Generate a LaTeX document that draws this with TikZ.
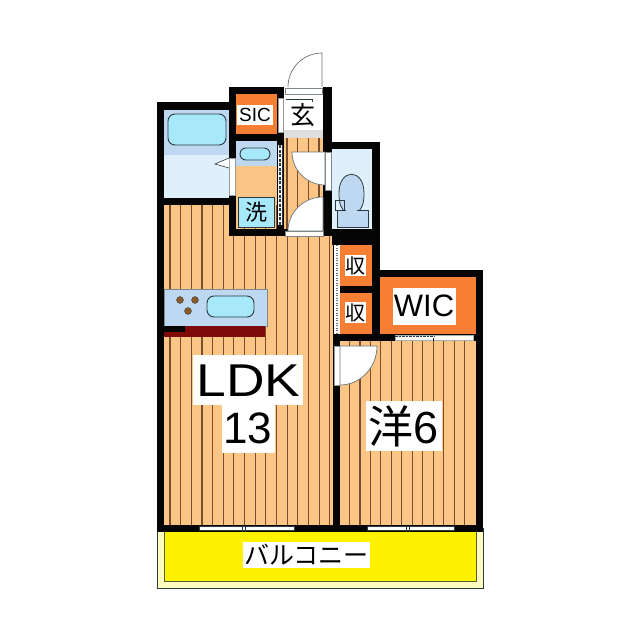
\documentclass[tikz,border=0pt]{standalone}
\usepackage{fontspec}
\setmainfont{Liberation Sans}
\newfontfamily\jpf{Noto Sans CJK JP}
\definecolor{flr}{HTML}{FBC585}
\definecolor{stripe}{HTML}{7A4E2C}
\definecolor{stor}{HTML}{F67F33}
\definecolor{paleb}{HTML}{DFF0FB}
\definecolor{bandb}{HTML}{BFD8F2}
\definecolor{tubb}{HTML}{A8E8FB}
\definecolor{wallc}{HTML}{050505}
\definecolor{ink}{HTML}{2A3A40}
\definecolor{redc}{HTML}{7E0A0A}
\definecolor{burn}{HTML}{8A5A2B}
\tikzset{
 wall/.style={fill=wallc,draw=none},
 linerule/.style={draw=stripe,line width=1.1pt},
 fixture/.style={draw=ink,line width=0.9pt,rounded corners=4pt,fill=tubb},
 doorline/.style={draw=ink!70,line width=0.7pt,fill=white},
 lbl/.style={fill=white,inner sep=0pt,text=black,align=center},
 burner/.style={circle,fill=burn,draw=ink,line width=0.3pt,minimum size=7pt,inner sep=0pt}
}
\begin{document}
\begin{tikzpicture}[x=1pt,y=-1pt]
\useasboundingbox (0,0) rectangle (640,640);
\fill[white] (0,0) rectangle (640,640);
% balcony
\fill[yellow!25,draw=ink,line width=0.9pt] (157,528) rectangle (483,588);
\fill[yellow,draw=ink!80!yellow,line width=0.8pt] (164,528) rectangle (476,581);
% floors
\fill[flr] (164,205) rectangle (333,525);
\fill[flr] (340,341) rectangle (476,525);
\fill[flr] (284,134) rectangle (323,232);
\fill[flr] (236,165) rectangle (277,229);
% stripes
\foreach \i in {0,...,15}{\pgfmathsetmacro\xx{170+10.65*\i}
  \draw[linerule] (\xx,205) -- (\xx,525);}
\foreach \i in {0,...,11}{\pgfmathsetmacro\xx{349.5+10.48*\i}
  \draw[linerule] (\xx,341) -- (\xx,525);}
\foreach \i in {0,...,3}{\pgfmathsetmacro\xx{287+10.65*\i}
  \draw[linerule] (\xx,138) -- (\xx,232);}
% wet rooms
\fill[paleb] (164,110) rectangle (229,198);
\fill[bandb] (164,110) rectangle (229,155);
\fill[paleb] (332,149) rectangle (372,229);
\fill[bandb] (236,141) rectangle (277,166);
% storage
\fill[stor] (236,94) rectangle (277,134);
\fill[stor] (340,245) rectangle (372,286);
\fill[stor] (340,293) rectangle (372,334);
\fill[stor] (380,277) rectangle (476,334);
% entrance
\fill[black!13] (284,94) rectangle (323,138);
\fill[white] (284,94) rectangle (323,130);
% walls
\fill[wall] (157,102) rectangle (229,110);
\fill[wall] (157,102) rectangle (164,532);
\fill[wall] (157,198) rectangle (236,205);
\fill[wall] (229,87) rectangle (236,236);
\fill[wall] (229,87) rectangle (284,94);
\fill[wall] (277,87) rectangle (284,236);
\fill[wall] (236,134) rectangle (284,141);
\fill[wall] (229,229) rectangle (332,236);
\fill[wall] (323,87) rectangle (332,149);
\fill[wall] (323,142) rectangle (380,149);
\fill[wall] (323,142) rectangle (332,236);
\fill[wall] (372,142) rectangle (380,341);
\fill[wall] (332,229) rectangle (380,245);
\fill[wall] (333,236) rectangle (340,532);
\fill[wall] (340,286) rectangle (372,293);
\fill[wall] (372,270) rectangle (483,277);
\fill[wall] (476,270) rectangle (483,532);
\fill[wall] (333,334) rectangle (483,341);
\fill[wall] (157,525) rectangle (483,532);
% windows
\foreach \a/\b in {199/294,367/454}{
  \fill[white,draw=ink,line width=0.6pt] (\a,526.5) rectangle (\b,530.5);
  \pgfmathsetmacro\mm{(\a+\b)/2}
  \draw[ink,line width=0.7pt] (\mm-4,525.5) -- (\mm-4,531.5) (\mm-1,525.5) -- (\mm-1,531.5);
}
% strips and doors
\fill[white,draw=ink!50,line width=0.4pt] (229.5,158) rectangle (235,195);
\fill[white,draw=ink!50,line width=0.4pt] (278,98) rectangle (283,132);
\fill[white] (277.5,145) rectangle (283,225);
\draw[ink,line width=2pt,dash pattern=on 3pt off 1.5pt] (279.5,145) -- (279.5,225);
\draw[ink,line width=0.5pt] (282,145) -- (282,225);
\fill[white] (334,245) rectangle (339.5,334);
\draw[ink!70,line width=2pt,dash pattern=on 1pt off 1.5pt] (336.7,245) -- (336.7,334);
\fill[white,draw=ink!40,line width=0.4pt] (395,335.5) rectangle (473,340);
\draw[ink,line width=1.3pt,dash pattern=on 2.5pt off 1pt] (395,336.5) -- (434,336.5);
\fill[wall] (433,337.5) rectangle (434,341);
% entrance door
\fill[white,draw=ink!60,line width=0.5pt] (285,88) rectangle (322,94);
\draw[doorline] (322,87) -- (322,53) .. controls (303.2,53) and (288,68.2) .. (288,87);
\draw[ink,line width=0.6pt] (286,99) -- (312,99) -- (312,102);
% corridor doors
\draw[doorline] (325,185) -- (325,152) -- (292,152) .. controls (292,170.2) and (306.8,185) .. (325,185);
\fill[white,draw=ink!60,line width=0.4pt] (325,152) rectangle (331,190);
\draw[doorline] (323,231) -- (323,197) .. controls (303.7,197) and (288,212.2) .. (288,231) -- cycle;
\fill[white,draw=ink!60,line width=0.4pt] (285,231) rectangle (323,236);
% bedroom door
\fill[white,draw=ink!50,line width=0.4pt] (334,346) rectangle (340,385);
\draw[doorline] (340,385) -- (340,346) -- (377,346) .. controls (377,367.5) and (360.4,385) .. (340,385);
% bath fixtures
\draw[fixture,rounded corners=7pt] (168,114) rectangle (226,145);
\draw[ink,line width=0.6pt,fill=white] (229,158) -- (215,164) -- (229,168);
\draw[fixture,rounded corners=6pt] (240,148) rectangle (270,160);
\fill[tubb,draw=ink,line width=1pt] (238,197) rectangle (274,227);
% toilet
\draw[ink,line width=0.8pt,fill=bandb] (339,193) .. controls (339,168) and (364,168) .. (364,193) .. controls (364,204) and (362,208) .. (358,212) -- (345,212) .. controls (341,208) and (339,204) .. (339,193) -- cycle;
\draw[ink,line width=0.8pt,fill=bandb] (337,210) -- (368,210) -- (368,227) -- (337,227) -- cycle;
\fill[bandb] (346,206) rectangle (357,212);
\draw[ink,line width=0.7pt] (335.5,200) rectangle (344,210);
% kitchen
\fill[bandb,draw=ink!60,line width=0.5pt] (164,289) rectangle (267,326);
\draw[fixture,rounded corners=7pt] (207,296) rectangle (254,317);
\node[burner] (b1) at (180,300) {};
\node[burner] (b2) at (195,300) {};
\node[burner] (b3) at (188,311) {};
\fill[redc] (164,326) rectangle (265,337);
\fill[wallc] (164,326) rectangle (185,332);
% labels
\node[lbl,minimum width=36pt,minimum height=20pt] (sicbg) at (255,114.5) {};
\node[text=black,font=\fontsize{19}{19}\selectfont] (sic) at (255,114.5) {SIC};
\node[font=\jpf\fontsize{25}{25}\selectfont,text=black] (gen) at (303,115) {玄};
\node[font=\jpf\fontsize{22}{22}\selectfont,text=black] (sen) at (256,212) {洗};
\node[lbl,font=\jpf\fontsize{20}{20}\selectfont,minimum width=21pt,minimum height=21pt] (s1) at (355,265.5) {収};
\node[lbl,font=\jpf\fontsize{20}{20}\selectfont,minimum width=21pt,minimum height=21pt] (s2) at (355,312.5) {収};
\node[lbl,font=\fontsize{31}{31}\selectfont,minimum width=63pt,minimum height=37pt] (wic) at (424,306) {WIC};
\node[lbl,minimum width=110pt,minimum height=50pt] (ldkbg) at (248,380) {};
\node[lbl,minimum width=53pt,minimum height=48pt] (numbg) at (248.5,429) {};
\node[text=black,inner sep=0pt,font=\fontsize{46}{46}\selectfont] (ldk) at (248.5,380.5) {\scalebox{1.16}[1]{LDK}};
\node[text=black,inner sep=0pt,font=\fontsize{44}{44}\selectfont] (num) at (247.5,428.5) {13};
\node[lbl,font=\fontsize{45}{45}\selectfont,minimum width=76pt,minimum height=50pt] (yo) at (404,426) {{\jpf 洋}6};
\node[lbl,font=\jpf\fontsize{25}{25}\selectfont,minimum width=127pt,minimum height=26pt] (bal) at (306.5,555) {バルコニー};
\end{tikzpicture}
\end{document}
